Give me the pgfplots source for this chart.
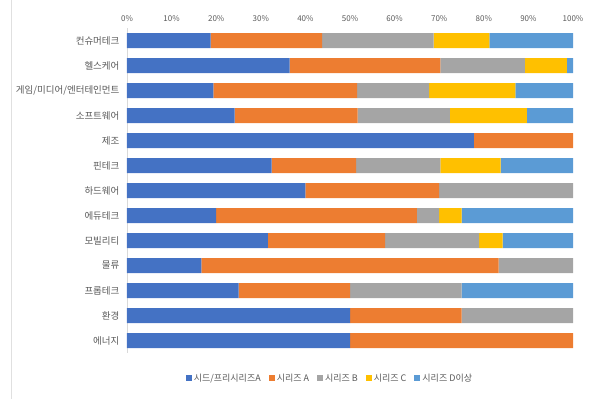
\documentclass[border=0pt]{standalone}
\usepackage{fontspec}
\setmainfont{Noto Sans CJK KR}
\usepackage{pgfplots}
\usepackage{pgfplotstable}
\pgfplotsset{compat=1.18}
\definecolor{cA}{HTML}{4472C4}
\definecolor{cB}{HTML}{ED7D31}
\definecolor{cC}{HTML}{A5A5A5}
\definecolor{cD}{HTML}{FFC000}
\definecolor{cE}{HTML}{5B9BD5}
\definecolor{txt}{HTML}{595959}
\pgfplotstableread{
y seed  A     B     C     D
0  18.75 25.00 25.00 12.50 18.75
1  36.49 33.78 18.92 9.46  1.35
2  19.35 32.26 16.13 19.35 12.91
3  24.14 27.59 20.69 17.24 10.34
4  77.78 22.22 0     0     0
5  32.43 18.92 18.92 13.51 16.22
6  40.00 30.00 30.00 0     0
7  20.00 45.00 5.00  5.00  25.00
8  31.58 26.32 21.05 5.26  15.79
9  16.67 66.66 16.67 0     0
10 25.00 25.00 25.00 0     25.00
11 50.00 25.00 25.00 0     0
12 50.00 50.00 0     0     0
}\datatable
\begin{document}
\begin{tikzpicture}
\path[use as bounding box] (0pt,0pt) rectangle (589pt,399pt);
\draw[black!12] (11pt,0pt) -- (11pt,399pt);
\begin{axis}[
  at={(127pt,46pt)}, anchor=south west,
  scale only axis, width=446pt, height=325pt,
  xbar stacked, bar width=15pt,
  xmin=0, xmax=100, ymin=-0.5, ymax=12.5,
  y dir=reverse,
  axis line style={draw=none},
  major tick length=0pt,
  xtick={0,10,...,100},
  xticklabels={0\%,10\%,20\%,30\%,40\%,50\%,60\%,70\%,80\%,90\%,100\%},
  xticklabel pos=right,
  xticklabel style={font=\fontsize{8}{9}\selectfont, text=txt, yshift=3pt},
  ytick={0,...,12},
  yticklabels={컨슈머테크,헬스케어,게임/미디어/엔터테인먼트,소프트웨어,제조,핀테크,하드웨어,에듀테크,모빌리티,물류,프롭테크,환경,에너지},
  yticklabel style={font=\fontsize{9.5}{11}\selectfont, text=txt, xshift=-4pt},
  legend columns=-1,
  legend style={draw=none, at={(0.455,-0.077)}, anchor=center,
    font=\fontsize{9}{10}\selectfont, text=txt,
    /tikz/every even column/.append style={column sep=6pt}},
  legend image code/.code={\fill[#1] (0pt,-3pt) rectangle (6pt,3pt);},
]
\addplot[fill=cA, draw=none] table[x=seed, y=y] {\datatable};
\addplot[fill=cB, draw=none] table[x=A, y=y] {\datatable};
\addplot[fill=cC, draw=none] table[x=B, y=y] {\datatable};
\addplot[fill=cD, draw=none] table[x=C, y=y] {\datatable};
\addplot[fill=cE, draw=none] table[x=D, y=y] {\datatable};
\legend{시드/프리시리즈A, 시리즈 A, 시리즈 B, 시리즈 C, 시리즈 D이상}
\draw[black!15] (axis cs:0,-0.5) -- (axis cs:0,12.5);
\end{axis}
\end{tikzpicture}
\end{document}
